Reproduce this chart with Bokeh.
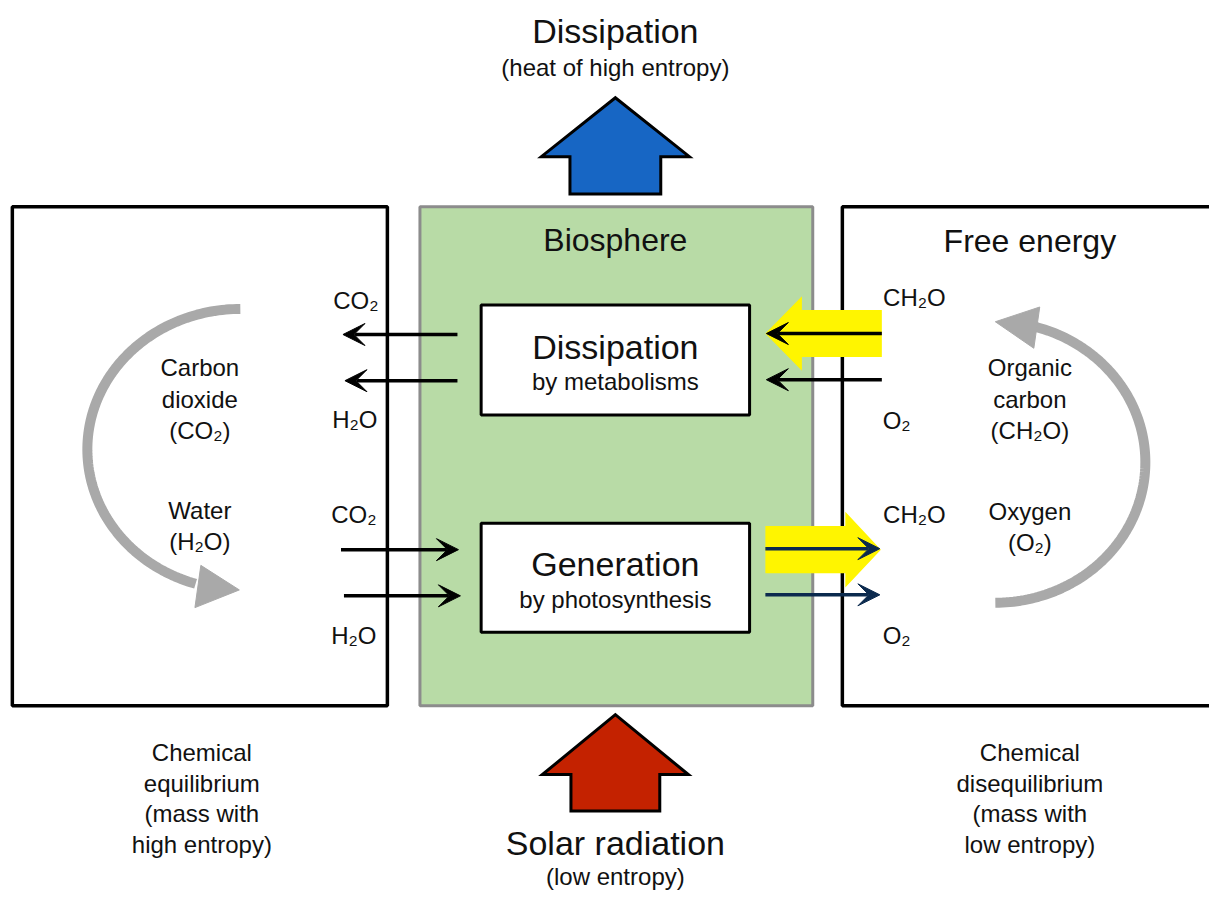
import numpy as np
from bokeh.plotting import figure
from bokeh.models import Range1d, Arrow, VeeHead
from bokeh.core.properties import value
from bokeh.embed import file_html
from bokeh.resources import INLINE

FONT = "Liberation Sans"

# ---------------- data (reference pixel coordinates) ----------------
# outer panels: left (equilibrium), centre (biosphere), right (free energy)
panel_left = [12, 425, 853]
panel_right = [392, 823, 1240]
panel_top = [210, 210, 210]
panel_bottom = [718, 718, 718]
panel_fill = ["white", "#b8dba6", "white"]
panel_line = ["black", "#8c8c8c", "black"]
panel_lw = [3.5, 3, 3.5]

# inner process boxes
inner_left = [487, 487]
inner_right = [759, 759]
inner_top = [310, 532]
inner_bottom = [422, 643]

# block arrows: tail x, tail y, tip x, tip y, shaft width, head width, head length
blk_tail_x = [623, 623]
blk_tail_y = [197, 825]
blk_tip_x = [623, 623]
blk_tip_y = [99, 727]
blk_shaft = [92, 90]
blk_head_w = [150, 148]
blk_head_l = [60, 61]
blk_color = ["#1766c4", "#c42200"]

yel_tail_x = [893, 775]
yel_tail_y = [339, 559]
yel_tip_x = [775, 892]
yel_tip_y = [339, 559]
yel_shaft = [48, 48]
yel_head_w = [76, 77]
yel_head_l = [37, 36]

# thin arrows
blk_ar_x0 = [463, 463, 345, 348, 893, 893]
blk_ar_x1 = [347, 349, 464, 466, 776, 776]
blk_ar_y = [340, 387, 559, 606, 339, 386]
navy_ar_x0 = [775, 775]
navy_ar_x1 = [891, 891]
navy_ar_y = [558, 605]

# grey cycle arcs: centre x, centre y, radius x, radius y, start deg, end deg
arc_cx = [243, 1008]
arc_cy = [457, 470]
arc_rx = [155, 152]
arc_ry = [143, 143]
arc_t0 = [90, -90]
arc_t1 = [253, 75]
# arc arrowheads: tip and two back corners
ah_tip_x = [242, 1008]
ah_tip_y = [600, 327]
ah_b1_x = [203, 1053]
ah_b1_y = [575, 312]
ah_b2_x = [197, 1047]
ah_b2_y = [618, 354]

# texts
big_txt = ["Dissipation", "Solar radiation", "Dissipation", "Generation"]
big_x = [623, 623, 623, 623]
big_y = [31, 858, 353, 574]
head_txt = ["Biosphere", "Free energy"]
head_x = [623, 1043]
head_y = [244, 245]
sub_txt = ["(heat of high entropy)", "(low entropy)", "by metabolisms", "by photosynthesis"]
sub_x = [623, 623, 623, 623]
sub_y = [68, 892, 388, 610]
body_txt = ["Carbon", "dioxide", "(CO\u2082)", "Water", "(H\u2082O)",
            "Organic", "carbon", "(CH\u2082O)", "Oxygen", "(O\u2082)",
            "CO\u2082", "H\u2082O", "CO\u2082", "H\u2082O",
            "CH\u2082O", "O\u2082", "CH\u2082O", "O\u2082",
            "Chemical", "equilibrium", "(mass with", "high entropy)",
            "Chemical", "disequilibrium", "(mass with", "low entropy)"]
body_x = [202, 202, 202, 202, 202,
          1043, 1043, 1043, 1043, 1043,
          360, 359, 358, 358,
          926, 908, 926, 908,
          204, 204, 204, 204,
          1043, 1043, 1043, 1043]
body_y = [374, 406, 438, 519, 551,
          374, 406, 438, 520, 552,
          305, 427, 523, 646,
          302, 428, 523, 646,
          765, 797, 828, 859,
          765, 797, 828, 859]

# ---------------- figure ----------------
W, H = 1209, 892
p = figure(width=W, height=H, x_range=Range1d(0, 1225), y_range=Range1d(908, 0),
           output_backend="svg", toolbar_location=None, min_border=0,
           x_axis_type=None, y_axis_type=None, outline_line_color=None,
           background_fill_color="white", border_fill_color="white")
p.grid.visible = False


def block_arrow(x0, y0, x1, y1, sw, hw, hl):
    d = np.array([x1 - x0, y1 - y0], dtype=float)
    L = np.hypot(*d)
    u = d / L
    n = np.array([-u[1], u[0]])
    t = np.array([x0, y0], float)
    tip = np.array([x1, y1], float)
    base = tip - u * hl
    pts = [t + n * sw / 2, base + n * sw / 2, base + n * hw / 2, tip,
           base - n * hw / 2, base - n * sw / 2, t - n * sw / 2]
    return [q[0] for q in pts], [q[1] for q in pts]


# panels
p.quad(left=panel_left, right=panel_right, top=panel_top, bottom=panel_bottom,
       fill_color=panel_fill, line_color=panel_line, line_width=panel_lw)

# inner boxes
p.quad(left=inner_left, right=inner_right, top=inner_top, bottom=inner_bottom,
       fill_color="white", line_color="black", line_width=3)

# blue / red block arrows
bx, by = [], []
for i in range(len(blk_tail_x)):
    xs, ys = block_arrow(blk_tail_x[i], blk_tail_y[i], blk_tip_x[i], blk_tip_y[i],
                         blk_shaft[i], blk_head_w[i], blk_head_l[i])
    bx.append(xs)
    by.append(ys)
p.patches(bx, by, fill_color=blk_color, line_color="black", line_width=3, line_join="miter")

# yellow block arrows
yx, yy = [], []
for i in range(len(yel_tail_x)):
    xs, ys = block_arrow(yel_tail_x[i], yel_tail_y[i], yel_tip_x[i], yel_tip_y[i],
                         yel_shaft[i], yel_head_w[i], yel_head_l[i])
    yx.append(xs)
    yy.append(ys)
p.patches(yx, yy, fill_color="#fff500", line_color=None)

# grey arcs
for i in range(2):
    t = np.radians(np.linspace(arc_t0[i], arc_t1[i], 120))
    ax = arc_cx[i] + arc_rx[i] * np.cos(t)
    ay = arc_cy[i] - arc_ry[i] * np.sin(t)
    p.line(ax, ay, line_color="#a9a9a9", line_width=10, line_cap="butt")
p.patches([[ah_tip_x[i], ah_b1_x[i], ah_b2_x[i]] for i in range(2)],
          [[ah_tip_y[i], ah_b1_y[i], ah_b2_y[i]] for i in range(2)],
          fill_color="#a9a9a9", line_color="#a9a9a9", line_width=1)

# thin arrows
for i in range(len(blk_ar_x0)):
    p.add_layout(Arrow(end=VeeHead(size=22, fill_color="black", line_color="black", line_width=1),
                       x_start=blk_ar_x0[i], y_start=blk_ar_y[i],
                       x_end=blk_ar_x1[i], y_end=blk_ar_y[i],
                       line_color="black", line_width=3.5))
for i in range(len(navy_ar_x0)):
    p.add_layout(Arrow(end=VeeHead(size=22, fill_color="#0b2a4e", line_color="#0b2a4e", line_width=1),
                       x_start=navy_ar_x0[i], y_start=navy_ar_y[i],
                       x_end=navy_ar_x1[i], y_end=navy_ar_y[i],
                       line_color="#0b2a4e", line_width=3.5))

# texts
common = dict(text_align="center", text_baseline="middle", text_color="#111111",
              text_font=value(FONT))
p.text(big_x, big_y, text=big_txt, text_font_size="34px", **common)
p.text(head_x, head_y, text=head_txt, text_font_size="32px", **common)
p.text(sub_x, sub_y, text=sub_txt, text_font_size="24px", **common)
p.text(body_x, body_y, text=body_txt, text_font_size="24px", **common)

open("out.html", "w").write(file_html(p, INLINE))
